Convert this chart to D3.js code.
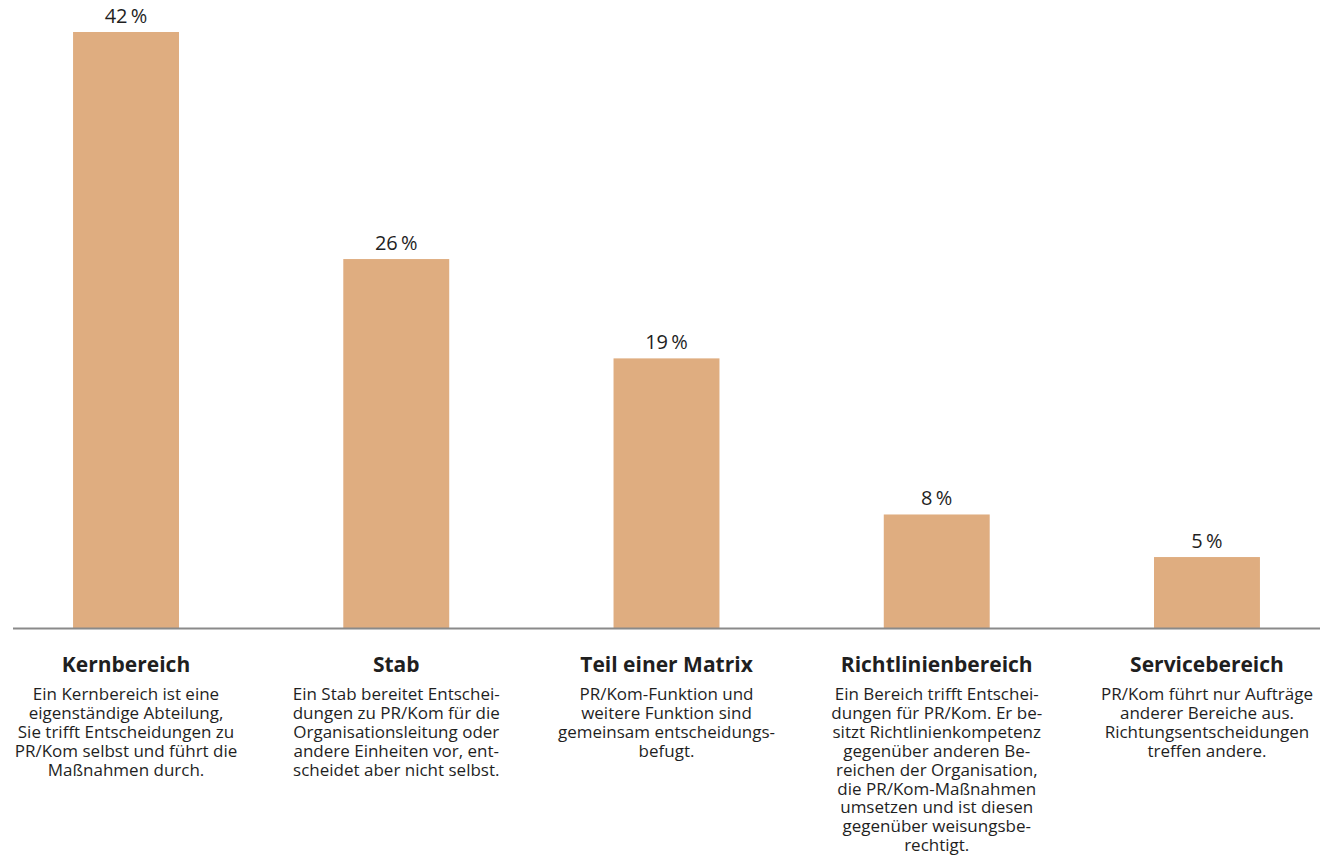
<!DOCTYPE html>
<html>
<head>
<meta charset="utf-8">
<script src="https://cdn.jsdelivr.net/npm/d3@7"></script>
<style>
  html, body { margin: 0; padding: 0; background: #fff; }
  svg { display: block; }
  text { font-family: "Open Sans", "Noto Sans", sans-serif; fill: #1f1f1f; }
</style>
</head>
<body>
<svg id="chart" width="1320" height="863"></svg>
<script>
// Organisational placement of PR/communications units
const categories = ["Kernbereich", "Stab", "Teil einer Matrix", "Richtlinienbereich", "Servicebereich"];
const shares = [42, 26, 19, 8, 5];
const descriptions = [
  ["Ein Kernbereich ist eine", "eigenständige Abteilung,", "Sie trifft Entscheidungen zu", "PR/Kom selbst und führt die", "Maßnahmen durch."],
  ["Ein Stab bereitet Entschei-", "dungen zu PR/Kom für die", "Organisationsleitung oder", "andere Einheiten vor, ent-", "scheidet aber nicht selbst."],
  ["PR/Kom-Funktion und", "weitere Funktion sind", "gemeinsam entscheidungs-", "befugt."],
  ["Ein Bereich trifft Entschei-", "dungen für PR/Kom. Er be-", "sitzt Richtlinienkompetenz", "gegenüber anderen Be-", "reichen der Organisation,", "die PR/Kom-Maßnahmen", "umsetzen und ist diesen", "gegenüber weisungsbe-", "rechtigt."],
  ["PR/Kom führt nur Aufträge", "anderer Bereiche aus.", "Richtungsentscheidungen", "treffen andere."]
];

const svg = d3.select("#chart");
const baseline = 628;

const x = d3.scaleBand()
  .domain(categories)
  .range([-9.1, 1342.1])
  .paddingInner(0.608)
  .paddingOuter(0.304);

const y = d3.scaleLinear()
  .domain([0, 42])
  .range([baseline, 32]);

const data = categories.map((c, i) => ({ cat: c, value: shares[i], desc: descriptions[i] }));

// bars
svg.append("g")
  .selectAll("rect")
  .data(data)
  .join("rect")
  .attr("x", d => x(d.cat))
  .attr("y", d => y(d.value))
  .attr("width", x.bandwidth())
  .attr("height", d => baseline - y(d.value))
  .attr("fill", "#dfad80");

// value labels
svg.append("g")
  .selectAll("text")
  .data(data)
  .join("text")
  .attr("x", d => x(d.cat) + x.bandwidth() / 2)
  .attr("y", d => y(d.value) - 9)
  .attr("text-anchor", "middle")
  .attr("font-size", 20)
  .text(d => d.value + "\u2009%");

// baseline
svg.append("line")
  .attr("x1", 13).attr("x2", 1320)
  .attr("y1", baseline + 0.5).attr("y2", baseline + 0.5)
  .attr("stroke", "#8a8a8a")
  .attr("stroke-width", 2);

// category titles and descriptions
const labels = svg.append("g")
  .selectAll("g")
  .data(data)
  .join("g")
  .attr("transform", d => `translate(${x(d.cat) + x.bandwidth() / 2},0)`);

labels.append("text")
  .attr("y", 671.5)
  .attr("text-anchor", "middle")
  .attr("font-size", 21)
  .attr("font-weight", 700)
  .text(d => d.cat);

labels.append("text")
  .attr("text-anchor", "middle")
  .attr("font-size", 17)
  .selectAll("tspan")
  .data(d => d.desc)
  .join("tspan")
  .attr("x", 0)
  .attr("y", (d, i) => 700 + i * 18.9)
  .text(d => d);
</script>
</body>
</html>
